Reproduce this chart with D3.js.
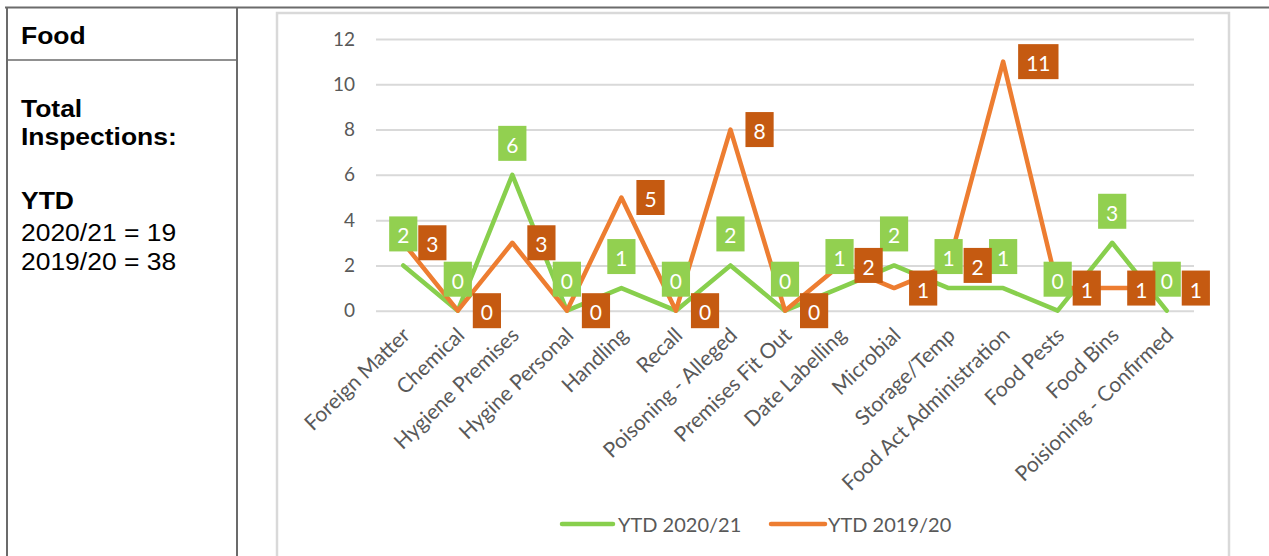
<!DOCTYPE html>
<html>
<head>
<meta charset="utf-8">
<script src="https://cdn.jsdelivr.net/npm/d3@7"></script>
<style>
  html, body { margin: 0; padding: 0; background: #fff; }
  svg { display: block; }
</style>
</head>
<body>
<svg id="chart" width="1269" height="556"></svg>
<script>
// Food inspection categories and year-to-date counts per season
const categories = [
  "Foreign Matter", "Chemical", "Hygiene Premises", "Hygine Personal", "Handling",
  "Recall", "Poisoning - Alleged", "Premises Fit Out", "Date Labelling", "Microbial",
  "Storage/Temp", "Food Act Administration", "Food Pests", "Food Bins", "Poisioning - Confirmed"
];
const ytd2020_21 = [2, 0, 6, 0, 1, 0, 2, 0, 1, 2, 1, 1, 0, 3, 0];
const ytd2019_20 = [3, 0, 3, 0, 5, 0, 8, 0, 2, 1, 2, 11, 1, 1, 1];
const yTicks = [0, 2, 4, 6, 8, 10, 12];
const seriesNames = ["YTD 2020/21", "YTD 2019/20"];

// Side panel text
const panelTitle = "Food";
const panelHeading = ["Total", "Inspections:"];
const panelSub = "YTD";
const panelTotals = ["2020/21 = 19", "2019/20 = 38"];

const svg = d3.select("#chart");
const chartFont = "Lato, 'Open Sans', sans-serif";
const tableFont = "'Liberation Sans', Arial, sans-serif";

// ---- table frame on the left ----
const tableStroke = "#6b6b6b";
svg.append("line").attr("x1", 5).attr("x2", 1269).attr("y1", 7.5).attr("y2", 7.5)
  .attr("stroke", tableStroke).attr("stroke-width", 2);
svg.append("line").attr("x1", 7).attr("x2", 7).attr("y1", 7).attr("y2", 556)
  .attr("stroke", tableStroke).attr("stroke-width", 2);
svg.append("line").attr("x1", 237).attr("x2", 237).attr("y1", 7).attr("y2", 556)
  .attr("stroke", tableStroke).attr("stroke-width", 2);
svg.append("line").attr("x1", 7).attr("x2", 237).attr("y1", 60).attr("y2", 60)
  .attr("stroke", tableStroke).attr("stroke-width", 1.5);

const panel = svg.append("g").attr("font-family", tableFont).attr("fill", "#000");
function panelText(str, x, y, bold) {
  panel.append("text")
    .attr("transform", `translate(${x},${y}) scale(1.08,1)`)
    .attr("font-size", 24.5)
    .attr("font-weight", bold ? "bold" : "normal")
    .text(str);
}
panelText(panelTitle, 21, 43.5, true);
panelText(panelHeading[0], 21, 117, true);
panelText(panelHeading[1], 21, 145, true);
panelText(panelSub, 21, 208.5, true);
panelText(panelTotals[0], 21, 241, false);
panelText(panelTotals[1], 21, 269.5, false);

// ---- chart frame ----
svg.append("rect").attr("x", 277).attr("y", 13).attr("width", 952).attr("height", 560)
  .attr("fill", "#fff").attr("stroke", "#d9d9d9").attr("stroke-width", 2.5);

// ---- scales ----
const plotLeft = 376, plotRight = 1194, plotTop = 39, plotBottom = 310.7;
const x = d3.scaleBand().domain(categories).range([plotLeft, plotRight]);
const cx = c => x(c) + x.bandwidth() / 2;
const y = d3.scaleLinear().domain([0, 12]).range([plotBottom, plotTop]);

// gridlines + y tick labels
const yAxis = svg.append("g")
  .attr("transform", `translate(${plotLeft},0)`)
  .call(d3.axisLeft(y).tickValues(yTicks).tickSize(-(plotRight - plotLeft)).tickPadding(21));
yAxis.select(".domain").remove();
yAxis.selectAll(".tick line").attr("stroke", "#d9d9d9").attr("stroke-width", 2);
yAxis.selectAll(".tick text")
  .attr("font-family", chartFont).attr("font-size", 19).attr("fill", "#595959");

// category labels, rotated
const xAxis = svg.append("g")
  .attr("transform", `translate(0,${plotBottom})`)
  .call(d3.axisBottom(x).tickSize(0).tickPadding(0));
xAxis.select(".domain").remove();
xAxis.selectAll(".tick text")
  .attr("font-family", chartFont).attr("font-size", 21).attr("fill", "#595959")
  .attr("text-anchor", "end")
  .attr("dy", 0)
  .attr("y", 0)
  .attr("transform", "translate(8,26) rotate(-44)");

// ---- lines ----
const greenLine = "#88cf4d", orangeLine = "#ed7d31";
const greenBox = "#92d050", orangeBox = "#c55a11";
const series = [
  { name: seriesNames[0], values: ytd2020_21, line: greenLine, box: greenBox, pos: "above" },
  { name: seriesNames[1], values: ytd2019_20, line: orangeLine, box: orangeBox, pos: "right" }
];
const lineGen = d3.line().x((d, i) => cx(categories[i])).y(d => y(d));
series.forEach(s => {
  svg.append("path").datum(s.values)
    .attr("d", lineGen)
    .attr("fill", "none").attr("stroke", s.line).attr("stroke-width", 4.5)
    .attr("stroke-linejoin", "round").attr("stroke-linecap", "round");
});

// ---- data labels ----
const boxH = 35, padX = 8;
series.forEach(s => {
  const g = svg.append("g");
  s.values.forEach((v, i) => {
    const px = cx(categories[i]), py = y(v);
    const lg = g.append("g");
    const rect = lg.append("rect").attr("fill", s.box);
    const t = lg.append("text")
      .attr("font-family", chartFont).attr("font-size", 21).attr("fill", "#fff")
      .attr("text-anchor", "middle").attr("dominant-baseline", "central")
      .text(v);
    const w = t.node().getComputedTextLength() + 2 * padX;
    let bx, by;
    if (s.pos === "above") {
      bx = px - w / 2; by = py - 14 - boxH;
    } else {
      bx = px + 15; by = py - boxH / 2;
    }
    rect.attr("x", bx).attr("y", by).attr("width", w).attr("height", boxH);
    t.attr("x", bx + w / 2).attr("y", by + boxH / 2 + 1);
  });
});

// ---- legend ----
const legendItems = [
  { s: series[0], x1: 562, x2: 613, tx: 618 },
  { s: series[1], x1: 771, x2: 825, tx: 828 }
];
const legendY = 524;
legendItems.forEach(it => {
  svg.append("line").attr("x1", it.x1).attr("x2", it.x2).attr("y1", legendY).attr("y2", legendY)
    .attr("stroke", it.s.line).attr("stroke-width", 4.5).attr("stroke-linecap", "round");
  svg.append("text").attr("x", it.tx).attr("y", legendY)
    .attr("dominant-baseline", "central")
    .attr("font-family", chartFont).attr("font-size", 20).attr("fill", "#595959")
    .text(it.s.name);
});
</script>
</body>
</html>
